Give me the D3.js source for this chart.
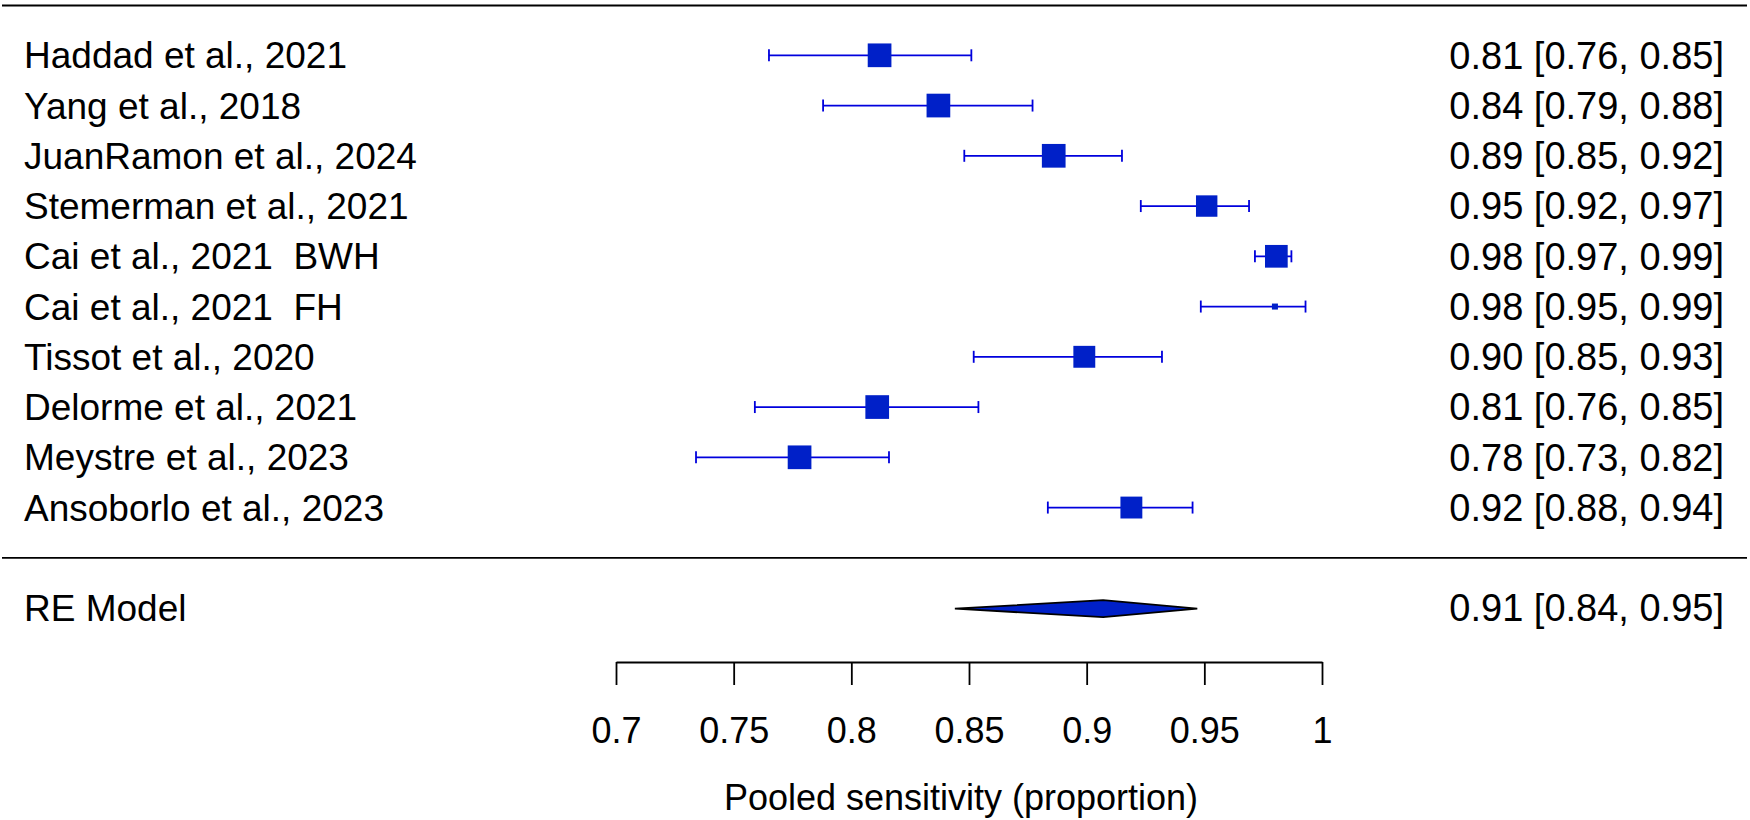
<!DOCTYPE html>
<html>
<head>
<meta charset="utf-8">
<script src="https://cdn.jsdelivr.net/npm/d3@7"></script>
<style>
  html, body { margin: 0; padding: 0; background: #fff; }
  svg text { font-family: "Liberation Sans", Arial, sans-serif; fill: #000; }
</style>
</head>
<body>
<svg id="chart" width="1750" height="820"></svg>
<script>
// ---- data ----
const studies = ["Haddad et al., 2021", "Yang et al., 2018", "JuanRamon et al., 2024", "Stemerman et al., 2021",
  "Cai et al., 2021  BWH", "Cai et al., 2021  FH", "Tissot et al., 2020", "Delorme et al., 2021",
  "Meystre et al., 2023", "Ansoborlo et al., 2023"];
const estimates = [0.812, 0.837, 0.886, 0.951, 0.9806, 0.980, 0.899, 0.811, 0.778, 0.919];
const lower     = [0.765, 0.788, 0.848, 0.923, 0.9715, 0.9485, 0.852, 0.759, 0.734, 0.8835];
const upper     = [0.851, 0.877, 0.915, 0.969, 0.987, 0.993, 0.932, 0.854, 0.816, 0.945];
const weights   = [10.9, 10.9, 10.9, 8.9, 10.0, 0.7, 9.3, 10.9, 10.9, 9.3];
const ciText = ["0.81 [0.76, 0.85]", "0.84 [0.79, 0.88]", "0.89 [0.85, 0.92]", "0.95 [0.92, 0.97]",
  "0.98 [0.97, 0.99]", "0.98 [0.95, 0.99]", "0.90 [0.85, 0.93]", "0.81 [0.76, 0.85]",
  "0.78 [0.73, 0.82]", "0.92 [0.88, 0.94]"];
const pooledLabel = "RE Model";
const pooled = [0.844, 0.907, 0.947]; // lower, estimate, upper
const pooledText = "0.91 [0.84, 0.95]";
const tickValues = [0.7, 0.75, 0.8, 0.85, 0.9, 0.95, 1];
const tickLabels = ["0.7", "0.75", "0.8", "0.85", "0.9", "0.95", "1"];
const xTitle = "Pooled sensitivity (proportion)";

// ---- layout ----
const svg = d3.select("#chart");
const FS_L = 37, FS_R = 38, FS_AX = 36;
const x = d3.scaleLinear().domain([0.7, 1]).range([616, 1322]);
const y = d3.scaleLinear().domain([0, 11]).range([55.3, 608.05]);
const size = d3.scaleSqrt().domain([0, d3.max(weights)]).range([0, 23.7]);
const lineColor = "#0000dd";
const boxColor = "#0020c8";
const capH = 6;

// horizontal rules
svg.append("line").attr("x1", 2).attr("x2", 1747).attr("y1", 5.5).attr("y2", 5.5)
  .attr("stroke", "#000").attr("stroke-width", 2.2);
svg.append("line").attr("x1", 2).attr("x2", 1747).attr("y1", y(10)).attr("y2", y(10))
  .attr("stroke", "#000").attr("stroke-width", 1.8);

const rows = studies.map((s, i) => ({ s, i, est: estimates[i], lo: lower[i], hi: upper[i], w: weights[i], t: ciText[i] }));

const g = svg.append("g");
const r = g.selectAll("g.row").data(rows).enter().append("g").attr("class", "row");

r.append("text").attr("x", 24).attr("y", d => y(d.i)).attr("dy", "0.35em")
  .style("font-size", FS_L + "px").style("white-space", "pre").text(d => d.s);
r.append("text").attr("x", 1724).attr("y", d => y(d.i)).attr("dy", "0.35em")
  .attr("text-anchor", "end").style("font-size", FS_R + "px").text(d => d.t);

r.append("line").attr("x1", d => x(d.lo)).attr("x2", d => x(d.hi))
  .attr("y1", d => y(d.i)).attr("y2", d => y(d.i))
  .attr("stroke", lineColor).attr("stroke-width", 1.8);
r.append("line").attr("x1", d => x(d.lo)).attr("x2", d => x(d.lo))
  .attr("y1", d => y(d.i) - capH).attr("y2", d => y(d.i) + capH)
  .attr("stroke", lineColor).attr("stroke-width", 1.8);
r.append("line").attr("x1", d => x(d.hi)).attr("x2", d => x(d.hi))
  .attr("y1", d => y(d.i) - capH).attr("y2", d => y(d.i) + capH)
  .attr("stroke", lineColor).attr("stroke-width", 1.8);
r.append("rect")
  .attr("x", d => x(d.est) - size(d.w) / 2).attr("y", d => y(d.i) - size(d.w) / 2)
  .attr("width", d => size(d.w)).attr("height", d => size(d.w))
  .attr("fill", boxColor);

// pooled row
svg.append("text").attr("x", 24).attr("y", y(11)).attr("dy", "0.35em")
  .style("font-size", FS_L + "px").text(pooledLabel);
svg.append("text").attr("x", 1724).attr("y", y(11)).attr("dy", "0.35em")
  .attr("text-anchor", "end").style("font-size", FS_R + "px").text(pooledText);
const dh = 8.5;
const yc = y(11) + 0.6;
svg.append("path")
  .attr("d", `M${x(pooled[0])},${yc} L${x(pooled[1])},${yc - dh} L${x(pooled[2])},${yc} L${x(pooled[1])},${yc + dh} Z`)
  .attr("fill", boxColor).attr("stroke", "#000").attr("stroke-width", 1.8).attr("stroke-linejoin", "miter");

// x axis
const axis = d3.axisBottom(x).tickValues(tickValues)
  .tickFormat((d, i) => tickLabels[i]).tickSize(23).tickSizeOuter(0).tickPadding(32);
const ax = svg.append("g").attr("transform", "translate(0,662)").call(axis);
ax.select(".domain").attr("stroke", "#000").attr("stroke-width", 1.8);
ax.selectAll(".tick line").attr("stroke", "#000").attr("stroke-width", 1.8);
ax.selectAll(".tick text").style("font-size", FS_AX + "px")
  .style("font-family", "'Liberation Sans', Arial, sans-serif").attr("fill", "#000");

svg.append("text").attr("x", 961).attr("y", 810)
  .attr("text-anchor", "middle").style("font-size", FS_AX + "px").text(xTitle);
</script>
</body>
</html>
